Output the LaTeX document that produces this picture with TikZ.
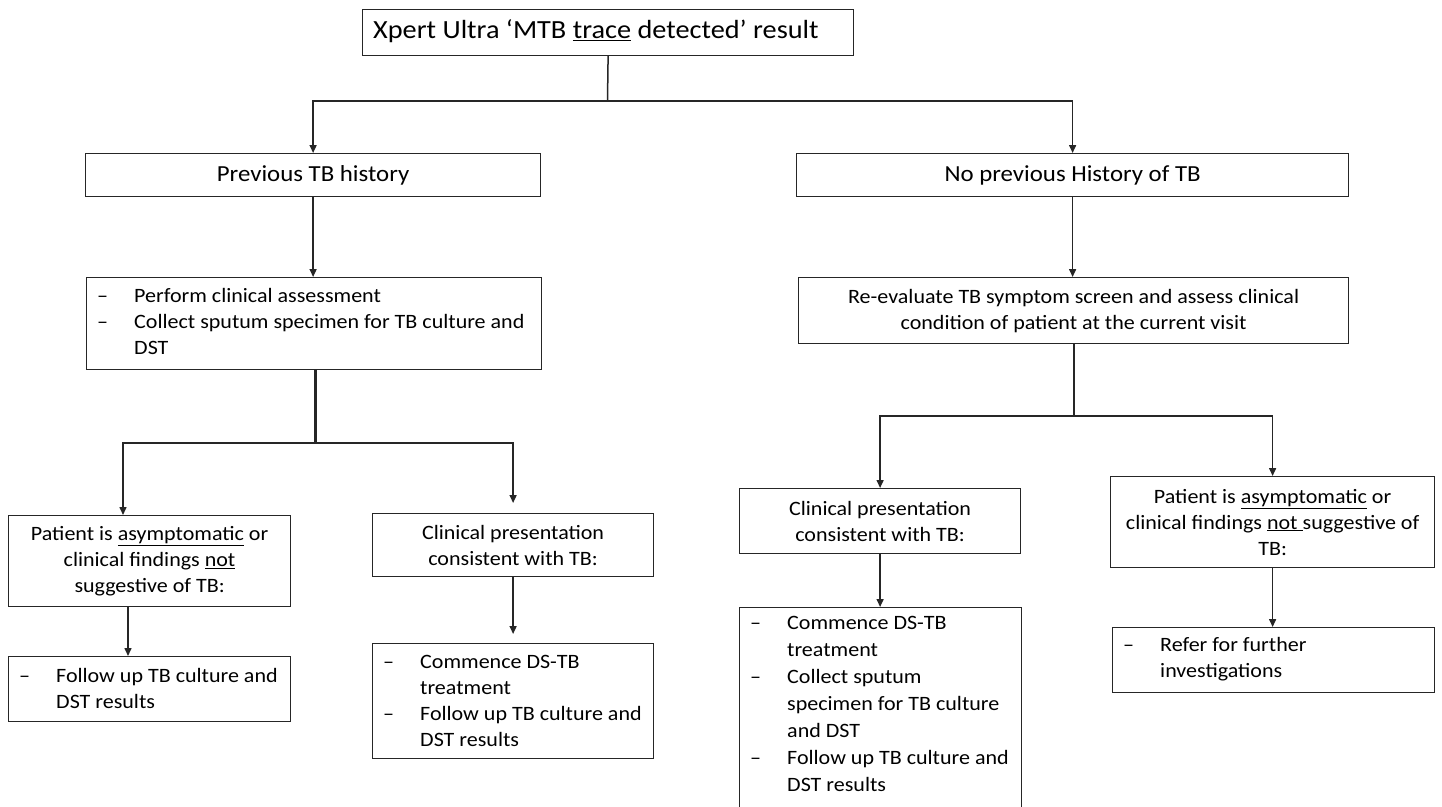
\documentclass[tikz,border=0pt]{standalone}
\usepackage{fontspec}
\setmainfont[FakeStretch=1.08]{Carlito}
\usetikzlibrary{arrows.meta}
\newcommand{\ditem}[1]{\makebox[37pt][l]{–}#1}
\newcommand{\dcont}{\hspace*{37pt}}
\tikzset{
  box/.style={draw=black!85, line width=1.2pt, inner xsep=6pt, inner ysep=0pt, anchor=north west,
    font=\fontsize{20.4}{26}\selectfont, align=center},
  txt/.style={inner sep=0pt, anchor=west, align=left, font=\fontsize{20.4}{26}\selectfont},
  conn/.style={draw=black!85, line width=1.5pt},
  arr/.style={conn, -{Triangle[length=8pt,width=7pt]}},
}
\begin{document}
\begin{tikzpicture}[x=1pt,y=-1pt]
\useasboundingbox (0,0) rectangle (1442,806);
% level 0
\node[box, minimum width=491pt, minimum height=46pt] (title) at (362,9) {};
\node[txt, font=\fontsize{26.2}{30}\selectfont, yshift=1pt] (titlet) at ([xshift=11pt]title.west)
  {Xpert Ultra ‘MTB \underline{trace} detected’ result};
% level 1
\node[box, font=\fontsize{23}{27}\selectfont, minimum width=455pt, minimum height=43pt] (prev) at (85,153) {Previous TB history};
\node[box, font=\fontsize{23}{27}\selectfont, minimum width=552pt, minimum height=43pt] (noprev) at (796,153) {No previous History of TB};
% level 2
\node[box, minimum width=455pt, minimum height=92pt] (assess) at (86,277) {};
\node[txt, yshift=2pt] (assesst) at ([xshift=11pt]assess.west)
  {\ditem{Perform clinical assessment}\\
   \ditem{Collect sputum specimen for TB culture and}\\
   \dcont DST};
\node[box, minimum width=550pt, minimum height=66pt] (reeval) at (798,277)
  {Re-evaluate TB symptom screen and assess clinical\\ condition of patient at the current visit};
% level 3 left
\node[box, minimum width=282pt, minimum height=91pt] (asym1) at (8,515)
  {Patient is \underline{asymptomatic} or\\ clinical findings \underline{not}\\ suggestive of TB:};
\node[box, minimum width=281pt, minimum height=63pt] (clin1) at (372,513)
  {Clinical presentation\\ consistent with TB:};
% level 3 right
\node[box, minimum width=281pt, minimum height=65pt] (clin2) at (739,488)
  {Clinical presentation\\ consistent with TB:};
\node[box, minimum width=324pt, minimum height=91pt] (asym2) at (1110,476)
  {Patient is \underline{asymptomatic} or\\ clinical findings \underline{not }suggestive of\\ TB:};
% level 4
\node[box, minimum width=282pt, minimum height=65pt] (follow1) at (8,656) {};
\node[txt, yshift=1pt] (follow1t) at ([xshift=11pt]follow1.west)
  {\ditem{Follow up TB culture and}\\ \dcont DST results};
\node[box, minimum width=281pt, minimum height=115pt] (treat1) at (372,643) {};
\node[txt] (treat1t) at ([xshift=11pt]treat1.west)
  {\ditem{Commence DS-TB}\\ \dcont treatment\\
   \ditem{Follow up TB culture and}\\ \dcont DST results};
\node[box, minimum width=282pt, minimum height=200pt] (treat2) at (739,607) {};
\node[txt, font=\fontsize{20.4}{27}\selectfont, yshift=4pt] (treat2t) at ([xshift=11pt]treat2.west)
  {\ditem{Commence DS-TB}\\ \dcont treatment\\
   \ditem{Collect sputum}\\ \dcont specimen for TB culture\\ \dcont and DST\\
   \ditem{Follow up TB culture and}\\ \dcont DST results};
\node[box, minimum width=322pt, minimum height=65pt] (refer) at (1112,627) {};
\node[txt, yshift=1pt] (refert) at ([xshift=11pt]refer.west)
  {\ditem{Refer for further}\\ \dcont investigations};
% connectors
\coordinate (j1) at (607.5,101);
\draw[conn] (title.south) -- (j1);
\draw[arr] (j1) -| (prev.north);
\draw[arr] (j1) -| (noprev.north);
\draw[arr] (prev) -- (prev |- assess.north);
\draw[arr] (noprev) -- (noprev |- reeval.north);
\coordinate (j2) at (315,443);
\draw[conn, line width=3pt] (assess.south -| j2) -- (j2);
\coordinate (a1) at (123,515);
\coordinate (a2) at (128,606);
\draw[arr] (j2) -| (a1);
\draw[arr, shorten >=10pt] (j2) -| (clin1.north);
\draw[arr] (a2) -- (a2 |- follow1.north);
\draw[arr, shorten >=9pt] (clin1) -- (treat1);
\coordinate (j3) at (1074,416);
\draw[conn] (reeval.south -| j3) -- (j3);
\draw[arr] (j3) -| (clin2.north);
\draw[arr] (j3) -| (asym2.north);
\draw[arr] (clin2) -- (clin2 |- treat2.north);
\draw[arr] (asym2) -- (asym2 |- refer.north);
\end{tikzpicture}
\end{document}
